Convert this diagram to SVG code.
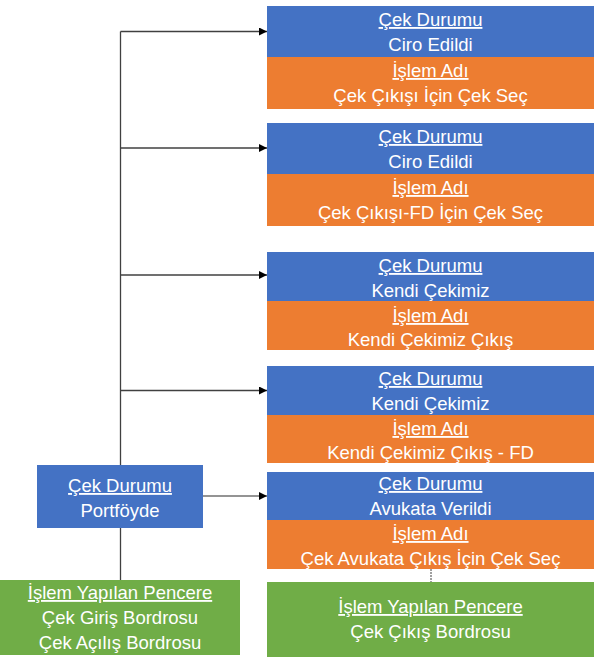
<svg xmlns="http://www.w3.org/2000/svg" width="594" height="669" viewBox="0 0 594 669">
<defs>
<marker id="arr" markerWidth="8" markerHeight="8" refX="8" refY="4" orient="auto" markerUnits="userSpaceOnUse">
<path d="M0,0 L8,4 L0,8 Z" fill="#000"/>
</marker>
<style>
text{font-family:"Liberation Sans",Arial,sans-serif;font-size:18.5px;fill:#fff;text-anchor:middle}
.h{text-decoration:underline}
.blue{fill:#4472C4}
.orange{fill:#ED7D31}
.green{fill:#70AD47}
.conn{stroke:#404040;stroke-width:1.3;fill:none}
</style>
</defs>
<rect width="594" height="669" fill="#fff"/>
<g id="connectors">
<line class="conn" x1="120.5" y1="31.5" x2="120.5" y2="580"/>
<line class="conn" x1="120.5" y1="31.5" x2="267" y2="31.5" marker-end="url(#arr)"/>
<line class="conn" x1="120.5" y1="148" x2="267" y2="148" marker-end="url(#arr)"/>
<line class="conn" x1="120.5" y1="275" x2="267" y2="275" marker-end="url(#arr)"/>
<line class="conn" x1="120.5" y1="390.5" x2="267" y2="390.5" marker-end="url(#arr)"/>
<line x1="203" y1="496" x2="267" y2="496" stroke="#707070" stroke-width="1.3" marker-end="url(#arr)"/>
<line x1="431" y1="569" x2="431" y2="582" stroke="#404040" stroke-width="1" stroke-dasharray="2,1"/>
</g>
<g id="node-portfoyde">
<rect class="blue" x="37" y="465" width="166" height="63"/>
<text class="h" x="120" y="492">Çek Durumu</text>
<text x="120" y="517">Portföyde</text>
</g>
<g id="node-pencere-giris">
<rect class="green" x="0" y="580" width="240" height="75"/>
<text class="h" x="120" y="599">İşlem Yapılan Pencere</text>
<text x="120" y="624">Çek Giriş Bordrosu</text>
<text x="120" y="649">Çek Açılış Bordrosu</text>
</g>
<g id="node-ciro1">
<rect class="blue" x="267" y="6" width="327" height="51"/>
<rect class="orange" x="267" y="57" width="327" height="52"/>
<text class="h" x="430.5" y="26">Çek Durumu</text>
<text x="430.5" y="51">Ciro Edildi</text>
<text class="h" x="430.5" y="77">İşlem Adı</text>
<text x="430.5" y="102">Çek Çıkışı İçin Çek Seç</text>
</g>
<g id="node-ciro2">
<rect class="blue" x="267" y="123" width="327" height="51"/>
<rect class="orange" x="267" y="174" width="327" height="52"/>
<text class="h" x="430.5" y="143">Çek Durumu</text>
<text x="430.5" y="168">Ciro Edildi</text>
<text class="h" x="430.5" y="194">İşlem Adı</text>
<text x="430.5" y="219">Çek Çıkışı-FD İçin Çek Seç</text>
</g>
<g id="node-kendi1">
<rect class="blue" x="267" y="252" width="327" height="49"/>
<rect class="orange" x="267" y="301" width="327" height="49"/>
<text class="h" x="430.5" y="272">Çek Durumu</text>
<text x="430.5" y="297">Kendi Çekimiz</text>
<text class="h" x="430.5" y="322">İşlem Adı</text>
<text x="430.5" y="346">Kendi Çekimiz Çıkış</text>
</g>
<g id="node-kendi2">
<rect class="blue" x="267" y="366" width="327" height="49"/>
<rect class="orange" x="267" y="415" width="327" height="48"/>
<text class="h" x="430.5" y="385">Çek Durumu</text>
<text x="430.5" y="410">Kendi Çekimiz</text>
<text class="h" x="430.5" y="435">İşlem Adı</text>
<text x="430.5" y="459">Kendi Çekimiz Çıkış - FD</text>
</g>
<g id="node-avukat">
<rect class="blue" x="267" y="472" width="327" height="48"/>
<rect class="orange" x="267" y="520" width="327" height="49"/>
<text class="h" x="430.5" y="490">Çek Durumu</text>
<text x="430.5" y="515">Avukata Verildi</text>
<text class="h" x="430.5" y="540">İşlem Adı</text>
<text x="430.5" y="565">Çek Avukata Çıkış İçin Çek Seç</text>
</g>
<g id="node-pencere-cikis">
<rect class="green" x="267" y="582" width="327" height="75"/>
<text class="h" x="430.5" y="613">İşlem Yapılan Pencere</text>
<text x="430.5" y="638">Çek Çıkış Bordrosu</text>
</g>
</svg>
